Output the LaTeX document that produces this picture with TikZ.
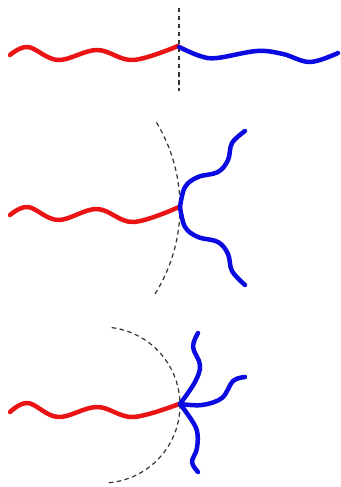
\documentclass[tikz,border=0pt]{standalone}
\definecolor{cred}{RGB}{235,20,20}
\definecolor{cblue}{RGB}{10,10,225}
\tikzset{
  redchain/.style={cred,line width=4.5pt,line cap=round,line join=round},
  bluechain/.style={cblue,line width=4.5pt,line cap=round,line join=round},
  cut/.style={black!80,line width=1.2pt,dash pattern=on 4.5pt off 3.5pt}
}
\begin{document}
\begin{tikzpicture}[x=1pt,y=-1pt]
\useasboundingbox (0,0) rectangle (340,487);
% panel 1
\draw[cut] (179,8) -- (179,91);
\draw[redchain] plot[smooth,tension=0.6] coordinates {(10,55) (28,47) (58,60) (97,50) (133,60) (178,46)};
\draw[bluechain] plot[smooth,tension=0.6] coordinates {(179,47) (200,56) (217,58) (257,51) (283,54) (310,62) (338,53)};
% panel 2
\draw[cut] (16,207) ++(32:164) arc[start angle=32,end angle=-32,radius=164];
\draw[redchain] plot[smooth,tension=0.6] coordinates {(10,215) (28,207) (58,220) (97,209) (133,222) (179,207)};
\draw[bluechain] plot[smooth,tension=0.6] coordinates {(180,207) (185,187) (198,177) (218,172) (228,160) (232,143) (245,131)};
\draw[bluechain] plot[smooth,tension=0.6] coordinates {(180,207) (185,227) (198,237) (218,242) (228,254) (232,271) (245,285)};
% panel 3
\draw[cut] (102,405) ++(85:78) arc[start angle=85,end angle=-85,radius=78];
\draw[redchain] plot[smooth,tension=0.6] coordinates {(10,412) (28,403) (58,417) (97,407) (133,417) (179,404)};
\draw[bluechain] plot[smooth,tension=0.6] coordinates {(180,404) (195,382) (200,365) (193,347) (198,333)};
\draw[bluechain] plot[smooth,tension=0.6] coordinates {(180,404) (202,405) (222,398) (233,381) (245,377)};
\draw[bluechain] plot[smooth,tension=0.6] coordinates {(180,404) (196,428) (197,448) (192,462) (198,472)};
\end{tikzpicture}
\end{document}
